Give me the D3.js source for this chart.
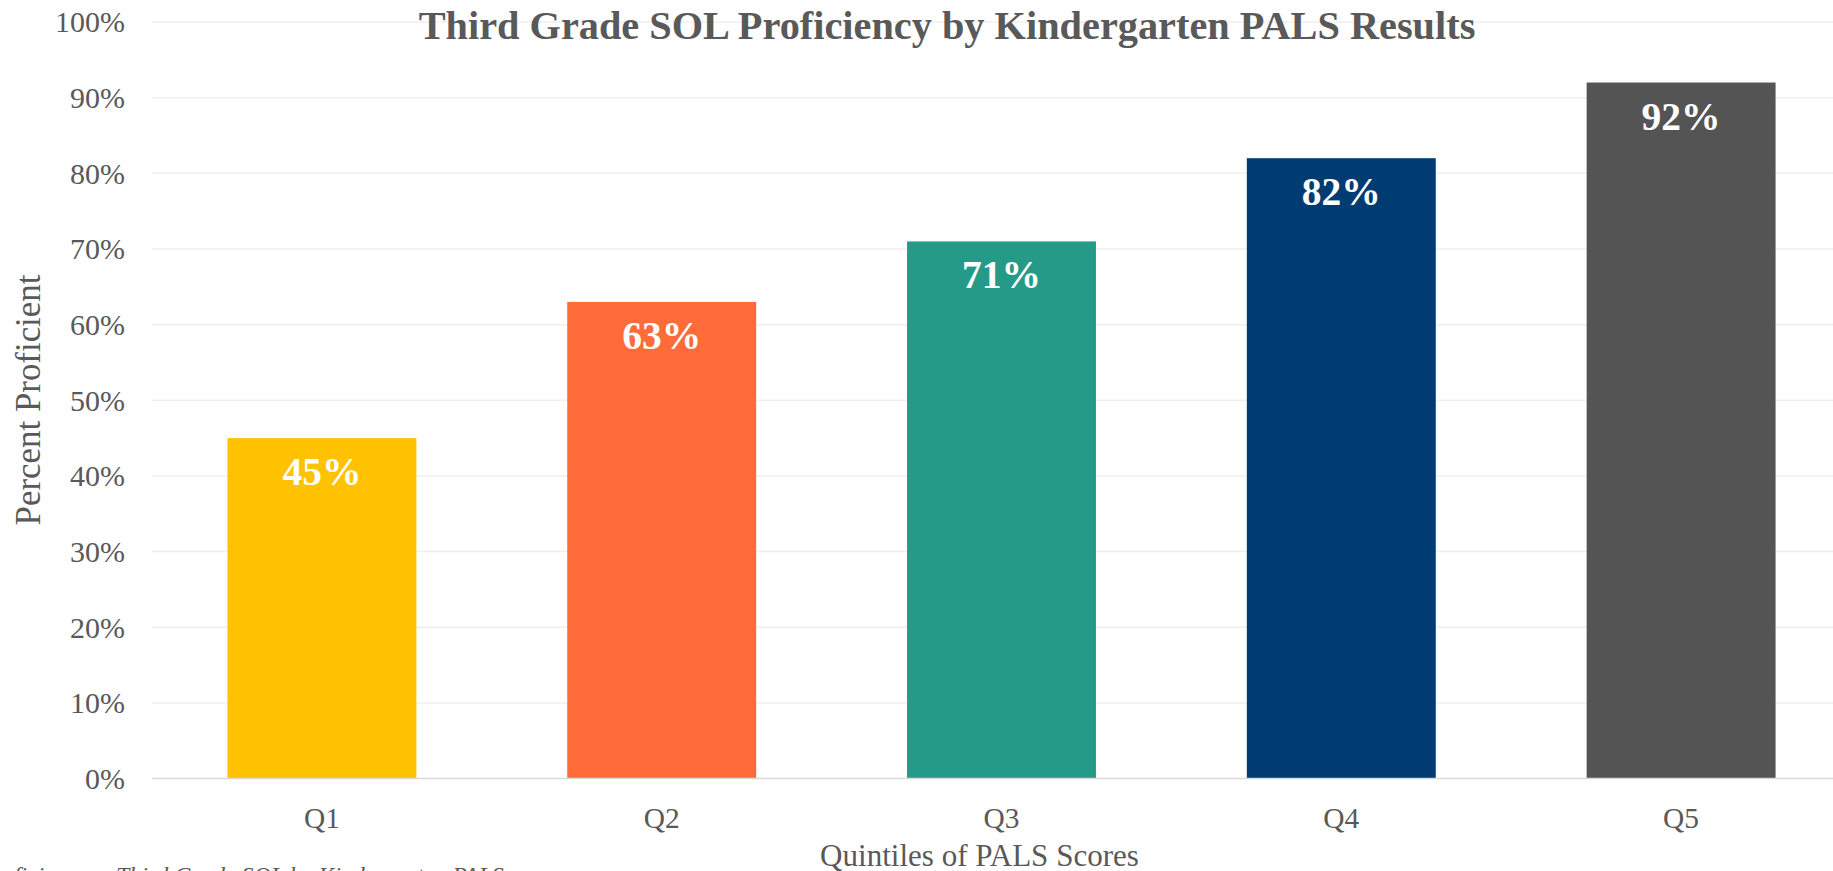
<!DOCTYPE html>
<html>
<head>
<meta charset="utf-8">
<script src="https://cdn.jsdelivr.net/npm/d3@7"></script>
<style>
  html, body { margin: 0; padding: 0; background: #fff; overflow: hidden; }
  svg { display: block; }
</style>
</head>
<body>
<svg id="chart" width="1833" height="871"></svg>
<script>
const categories = ["Q1", "Q2", "Q3", "Q4", "Q5"];
const values = [0.45, 0.63, 0.71, 0.82, 0.92];
const barColors = ["#FEC200", "#FF6B39", "#269A89", "#003B71", "#545454"];
const yTicks = [0, 0.1, 0.2, 0.3, 0.4, 0.5, 0.6, 0.7, 0.8, 0.9, 1.0];
const titleText = "Third Grade SOL Proficiency by Kindergarten PALS Results";
const yTitleText = "Percent Proficient";
const xTitleText = "Quintiles of PALS Scores";
const noteLead = "Proficiency \u2013";
const noteText = "Third Grade SOL by Kindergarten PALS";

(function () {
const W = 1833, H = 871;
const FONT = "'Liberation Serif', 'DejaVu Serif', serif";
const TEXT = "#595959";
const plotLeft = 152, plotRight = 1851, plotTop = 22, plotBottom = 778.6;

const svg = d3.select("#chart");

function fit(sel, target, base) {
  sel.attr("font-size", base);
  const w = sel.node().getComputedTextLength();
  const s = base * target / w;
  sel.attr("font-size", s);
  return s;
}

const x = d3.scaleBand().domain(categories).range([plotLeft, plotRight])
  .paddingInner(0.444).paddingOuter(0.222);
const y = d3.scaleLinear().domain([0, 1]).range([plotBottom, plotTop]);

// gridlines
svg.append("g").selectAll("line").data(yTicks.filter(d => d > 0)).join("line")
  .attr("x1", plotLeft).attr("x2", W)
  .attr("y1", d => y(d)).attr("y2", d => y(d))
  .attr("stroke", "#EFEFEF").attr("stroke-width", 1.5);

// bars
svg.append("g").selectAll("rect").data(values).join("rect")
  .attr("x", (d, i) => x(categories[i]))
  .attr("width", x.bandwidth())
  .attr("y", d => y(d))
  .attr("height", d => y(0) - y(d))
  .attr("fill", (d, i) => barColors[i]);

// baseline axis
svg.append("line").attr("x1", plotLeft).attr("x2", W)
  .attr("y1", y(0)).attr("y2", y(0))
  .attr("stroke", "#D9D9D9").attr("stroke-width", 1.5);

// y axis labels
const fmt = d3.format(".0%");
const probe = svg.append("text").attr("font-family", FONT).text("100%");
const yFs = fit(probe, 70, 26);
probe.remove();
const yAxis = d3.axisLeft(y).tickValues(yTicks).tickFormat(fmt).tickSize(0).tickPadding(0);
const yg = svg.append("g").attr("transform", `translate(125,0)`).call(yAxis);
yg.select(".domain").remove();
yg.selectAll("text").attr("font-family", FONT).attr("font-size", yFs)
  .attr("fill", TEXT).attr("dy", "0.33em");

// x axis labels
const probeX = svg.append("text").attr("font-family", FONT).text("Q3");
const xFs = fit(probeX, 36, 26);
probeX.remove();
const xAxis = d3.axisBottom(x).tickSize(0).tickPadding(0);
const xg = svg.append("g").attr("transform", `translate(0,828)`).call(xAxis);
xg.select(".domain").remove();
xg.selectAll("text").attr("font-family", FONT).attr("font-size", xFs)
  .attr("fill", TEXT).attr("dy", 0).attr("y", 0);

// value labels
const probeL = svg.append("text").attr("font-family", FONT).attr("font-weight", "bold").text("82%");
const lFs = fit(probeL, 79, 32);
probeL.remove();
svg.append("g").selectAll("text").data(values).join("text")
  .attr("x", (d, i) => x(categories[i]) + x.bandwidth() / 2)
  .attr("y", d => y(d) + 47)
  .attr("text-anchor", "middle")
  .attr("font-family", FONT).attr("font-weight", "bold")
  .attr("font-size", lFs).attr("fill", "#fff")
  .text(d => fmt(d));

// title
const title = svg.append("text").attr("x", 947).attr("y", 39)
  .attr("text-anchor", "middle").attr("font-family", FONT)
  .attr("font-weight", "bold").attr("fill", TEXT).text(titleText);
fit(title, 1057, 32);

// y title
const yt = svg.append("text")
  .attr("transform", "translate(40,400) rotate(-90)")
  .attr("text-anchor", "middle").attr("font-family", FONT)
  .attr("fill", TEXT).text(yTitleText);
fit(yt, 251, 26);

// x title
const xt = svg.append("text").attr("x", 979.5).attr("y", 866)
  .attr("text-anchor", "middle").attr("font-family", FONT)
  .attr("fill", TEXT).text(xTitleText);
fit(xt, 319, 26);

// footnote, clipped by the bottom edge as in the reference
const nt = svg.append("text").attr("x", 116).attr("y", 883)
  .attr("font-family", FONT).attr("font-style", "italic")
  .attr("fill", TEXT).text(noteText);
const nFs = fit(nt, 388, 21);
svg.append("text").attr("x", 106).attr("y", 883)
  .attr("text-anchor", "end")
  .attr("font-family", FONT).attr("font-style", "italic")
  .attr("font-size", nFs).attr("fill", TEXT).text(noteLead);
})();
</script>
</body>
</html>
